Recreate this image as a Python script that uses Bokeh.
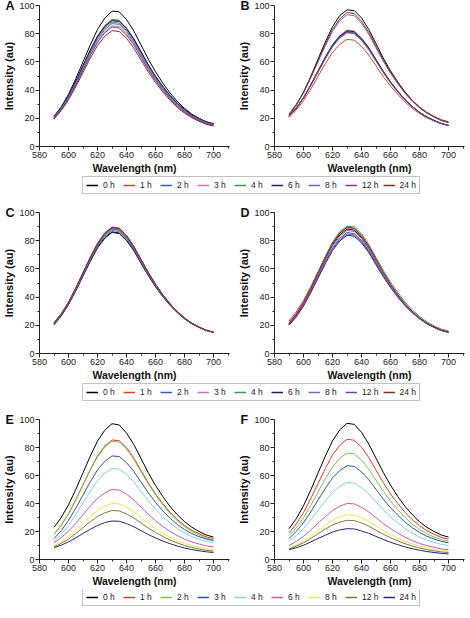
from bokeh.plotting import figure
from bokeh.layouts import column, row
from bokeh.models import Range1d, FixedTicker, Legend, LegendItem
from bokeh.embed import file_html
from bokeh.resources import INLINE

# Emission wavelengths (nm)
WAVELENGTH = [590, 595, 600, 605, 610, 615, 620, 625, 630, 635, 640, 645,
              650, 655, 660, 665, 670, 675, 680, 685, 690, 695, 700]

HOURS = ["0 h", "1 h", "2 h", "3 h", "4 h", "6 h", "8 h", "12 h", "24 h"]

COLORS_AD = ["#000000", "#e8392a", "#2f5fb3", "#d36fb6", "#3c9a4b",
             "#1b2160", "#6b6fb8", "#7b3f95", "#8b2c22"]
COLORS_EF = ["#000000", "#e8392a", "#7cc04a", "#2c5597", "#7dd3df",
             "#c45aa8", "#f2e64a", "#7d7a3a", "#1e2b6e"]

X_TICKS = [580, 600, 620, 640, 660, 680, 700]
X_MINOR = [590, 610, 630, 650, 670, 690, 710]
Y_TICKS = [0, 20, 40, 60, 80, 100]
Y_MINOR = [10, 30, 50, 70, 90]

# Intensity spectra, one list per time point (0 h ... 24 h)
panel_a = [
    [21, 28, 37, 48, 60, 72, 83, 91, 96, 95.5, 90, 82, 72, 62, 53, 45, 38, 32, 27, 23, 20, 17.5, 16],
    [20.5, 27.2, 35.6, 46.0, 57.2, 68.4, 78.4, 85.8, 90.2, 89.5, 84.1, 76.6, 67.2, 57.8, 49.5, 42.1, 35.6, 30.0, 25.6, 21.9, 19.2, 16.8, 15.5],
    [21, 27.6, 35.9, 46.1, 57.2, 68.2, 78.1, 85.3, 89.7, 89.0, 83.7, 76.2, 67.0, 57.8, 49.5, 42.3, 35.9, 30.4, 25.9, 22.3, 19.7, 17.3, 16],
    [20, 26.3, 34.2, 44.0, 54.6, 65.1, 74.6, 81.5, 85.7, 85.0, 79.9, 72.8, 63.9, 55.1, 47.2, 40.2, 34.1, 28.8, 24.5, 21.1, 18.5, 16.3, 15],
    [20.5, 27.0, 35.2, 45.2, 56.2, 67.0, 76.8, 83.9, 88.2, 87.5, 82.3, 74.9, 65.8, 56.7, 48.6, 41.4, 35.1, 29.7, 25.3, 21.8, 19.1, 16.8, 15.5],
    [21.5, 28.0, 36.3, 46.4, 57.4, 68.3, 78.0, 85.0, 89.2, 88.6, 83.5, 76.2, 67.2, 58.1, 49.9, 42.8, 36.4, 30.8, 26.3, 22.6, 19.9, 17.5, 16.2],
    [20.5, 26.9, 34.9, 44.9, 55.6, 66.3, 76.0, 82.9, 87.2, 86.5, 81.4, 74.1, 65.1, 56.1, 48.1, 41.1, 34.8, 29.5, 25.2, 21.7, 19.1, 16.8, 15.5],
    [20, 26.2, 34.0, 43.6, 54.1, 64.5, 73.8, 80.6, 84.7, 84.0, 79.0, 72.0, 63.3, 54.5, 46.7, 39.9, 33.8, 28.6, 24.4, 21.0, 18.5, 16.3, 15],
    [19.5, 25.5, 33.1, 42.4, 52.5, 62.6, 71.6, 78.2, 82.2, 81.5, 76.7, 69.8, 61.4, 52.9, 45.3, 38.7, 32.8, 27.7, 23.7, 20.4, 17.9, 15.7, 14.5],
]

panel_b = [
    [22, 29.2, 38.4, 49.7, 61.9, 74.0, 84.9, 92.9, 96.9, 96.4, 91.2, 83.0, 72.9, 62.7, 53.7, 45.7, 38.7, 32.7, 27.8, 23.9, 21.0, 18.4, 17],
    [20.5, 25.8, 32.5, 40.7, 49.7, 58.7, 66.7, 72.5, 76.0, 75.4, 71.0, 64.9, 57.2, 49.6, 42.9, 36.9, 31.6, 27.0, 23.4, 20.4, 18.1, 16.2, 15],
    [21.5, 27.2, 34.5, 43.5, 53.2, 62.8, 71.6, 77.8, 81.6, 80.9, 76.1, 69.5, 61.2, 53.0, 45.5, 39.0, 33.2, 28.3, 24.2, 20.9, 18.4, 16.3, 15],
    [21.5, 27.3, 34.7, 43.8, 53.7, 63.5, 72.4, 78.8, 82.6, 81.9, 77.0, 70.3, 61.9, 53.5, 46.0, 39.3, 33.4, 28.4, 24.3, 21.0, 18.5, 16.3, 15],
    [21.5, 27.1, 34.3, 43.1, 52.6, 62.1, 70.7, 76.9, 80.6, 79.9, 75.2, 68.7, 60.5, 52.4, 45.1, 38.6, 32.9, 28.1, 24.1, 20.8, 18.4, 16.3, 15],
    [21.5, 27.3, 34.6, 43.7, 53.5, 63.2, 72.0, 78.3, 82.1, 81.4, 76.6, 69.9, 61.6, 53.3, 45.8, 39.2, 33.3, 28.4, 24.3, 21.0, 18.5, 16.3, 15],
    [22.5, 29.3, 37.9, 48.5, 59.9, 71.3, 81.6, 89.1, 93.5, 92.8, 87.3, 79.6, 69.9, 60.5, 51.9, 44.4, 37.6, 32.0, 27.3, 23.6, 20.8, 18.5, 17],
    [21.5, 27.2, 34.4, 43.3, 52.9, 62.5, 71.2, 77.4, 81.1, 80.4, 75.7, 69.1, 60.9, 52.7, 45.3, 38.8, 33.1, 28.2, 24.2, 20.9, 18.4, 16.3, 15],
    [23, 29.9, 38.6, 49.3, 60.9, 72.5, 82.9, 90.5, 95.0, 94.3, 88.7, 80.9, 71.1, 61.4, 52.8, 45.2, 38.4, 32.7, 28.0, 24.2, 21.3, 19.0, 17.5],
]

panel_c = [
    [21, 27.2, 35.2, 44.9, 55.4, 65.8, 75.4, 82.2, 86.3, 85.5, 80.5, 73.3, 64.3, 55.6, 47.6, 40.5, 34.3, 29.1, 24.7, 21.2, 18.5, 16.4, 15],
    [21, 27.5, 35.9, 46.0, 57.0, 67.9, 77.9, 85.3, 89.3, 88.5, 83.3, 75.7, 66.4, 57.3, 48.9, 41.6, 35.1, 29.7, 25.1, 21.4, 18.7, 16.4, 15],
    [21, 27.4, 35.7, 45.6, 56.5, 67.2, 77.1, 84.1, 88.3, 87.5, 82.4, 74.9, 65.7, 56.7, 48.5, 41.2, 34.8, 29.5, 25.0, 21.4, 18.6, 16.4, 15],
    [21, 27.5, 36.0, 46.2, 57.2, 68.2, 78.3, 85.7, 89.8, 89.0, 83.8, 76.1, 66.8, 57.6, 49.1, 41.8, 35.3, 29.8, 25.2, 21.4, 18.7, 16.4, 15],
    [20, 26.6, 35.0, 45.0, 56.0, 66.8, 76.8, 83.9, 88.2, 87.4, 82.4, 74.9, 65.7, 56.7, 48.5, 41.2, 34.8, 29.5, 25.0, 21.4, 18.6, 16.4, 15],
    [20.5, 26.7, 34.6, 44.3, 54.8, 65.2, 74.8, 81.7, 85.8, 85.0, 80.1, 72.9, 63.9, 55.2, 47.3, 40.3, 34.1, 29.0, 24.6, 21.1, 18.5, 16.4, 15.2],
    [21, 27.3, 35.4, 45.3, 55.9, 66.5, 76.3, 83.1, 87.3, 86.5, 81.5, 74.1, 65.0, 56.1, 48.0, 40.9, 34.5, 29.3, 24.9, 21.3, 18.6, 16.4, 15],
    [21.5, 28.0, 36.2, 46.1, 57.0, 67.8, 77.7, 85.0, 89.0, 88.4, 83.4, 75.9, 66.6, 57.5, 49.1, 41.8, 35.2, 29.8, 25.2, 21.5, 18.8, 16.5, 15.2],
    [22, 28.3, 36.5, 46.5, 57.4, 68.2, 78.1, 85.3, 89.5, 88.8, 83.7, 76.0, 66.7, 57.5, 49.0, 41.7, 35.2, 29.8, 25.1, 21.4, 18.7, 16.4, 15],
]

panel_d = [
    [21, 27.4, 35.7, 45.6, 56.5, 67.2, 77.1, 84.1, 88.3, 87.5, 82.4, 74.9, 65.7, 56.7, 48.5, 41.2, 34.8, 29.5, 25.0, 21.4, 18.6, 16.4, 15],
    [23, 29.5, 37.6, 47.4, 58.0, 68.6, 78.3, 85.3, 89.2, 88.4, 83.1, 75.4, 66.0, 56.9, 48.6, 41.3, 34.9, 29.5, 25.0, 21.4, 18.6, 16.4, 15],
    [20.5, 26.7, 34.6, 44.3, 54.8, 65.2, 74.8, 81.7, 85.8, 85.0, 80.1, 72.9, 63.9, 55.2, 47.3, 40.3, 34.1, 29.0, 24.6, 21.1, 18.5, 16.4, 15.2],
    [22, 28.3, 36.5, 46.3, 57.1, 67.9, 77.8, 85.1, 89.2, 88.4, 83.3, 75.7, 66.4, 57.3, 48.9, 41.6, 35.1, 29.7, 25.1, 21.4, 18.7, 16.4, 15],
    [20.5, 26.9, 35.4, 45.8, 57.2, 68.5, 78.9, 86.5, 90.3, 89.8, 84.9, 77.4, 68.1, 59.0, 50.6, 43.2, 36.6, 31.0, 26.3, 22.5, 19.6, 17.3, 16],
    [20, 25.9, 33.6, 43.1, 53.4, 63.6, 73.0, 79.8, 83.8, 83.2, 78.5, 71.6, 62.9, 54.5, 46.8, 40.0, 34.0, 29.0, 24.7, 21.2, 18.6, 16.4, 15],
    [21, 27.3, 35.4, 45.3, 55.9, 66.5, 76.3, 83.1, 87.3, 86.5, 81.5, 74.1, 65.0, 56.1, 48.0, 40.9, 34.5, 29.3, 24.9, 21.3, 18.6, 16.4, 15],
    [20.5, 26.5, 34.2, 43.8, 54.1, 64.4, 73.9, 80.7, 84.8, 84.1, 79.3, 72.3, 63.5, 54.9, 47.1, 40.2, 34.1, 29.0, 24.7, 21.2, 18.6, 16.4, 15.3],
    [21.5, 27.9, 36.2, 46.2, 57.2, 68.1, 78.1, 85.4, 89.6, 88.9, 83.8, 76.2, 66.9, 57.7, 49.2, 41.8, 35.3, 29.9, 25.3, 21.6, 18.8, 16.6, 15.2],
]

panel_e = [
    [23, 30.0, 39.1, 50.0, 61.9, 73.8, 84.6, 92.3, 97.0, 96.1, 90.3, 82.2, 72.1, 62.0, 52.9, 45.0, 37.9, 32.0, 27.1, 23.1, 20.0, 17.5, 16],
    [18, 24.5, 32.6, 42.7, 53.5, 64.2, 74.1, 81.0, 85.4, 84.8, 79.8, 72.6, 63.7, 54.8, 46.9, 40.0, 33.7, 28.6, 24.3, 20.9, 18.4, 16.2, 15],
    [18, 24.3, 32.4, 42.4, 53.1, 63.7, 73.3, 80.3, 84.5, 83.9, 78.9, 71.7, 62.8, 54.0, 46.1, 39.1, 32.9, 27.7, 23.4, 19.9, 17.5, 15.3, 14],
    [15, 20.6, 27.9, 36.6, 46.0, 55.5, 64.0, 70.1, 74.0, 73.5, 69.2, 63.0, 55.3, 47.7, 40.8, 34.8, 29.5, 25.0, 21.4, 18.5, 16.3, 14.6, 13.5],
    [13, 18.0, 24.3, 32.1, 40.4, 48.7, 56.2, 61.7, 65.0, 64.6, 60.8, 55.4, 48.7, 42.0, 36.0, 30.6, 26.0, 22.1, 18.9, 16.3, 14.5, 12.8, 12],
    [12, 15.7, 20.2, 25.9, 32.1, 38.1, 43.7, 47.6, 50.0, 49.6, 46.7, 42.5, 37.4, 32.3, 27.7, 23.7, 20.0, 17.1, 14.5, 12.5, 11.1, 9.7, 9],
    [10, 12.9, 16.5, 21.0, 25.9, 30.6, 35.0, 38.1, 40.0, 39.7, 37.3, 34.0, 29.9, 25.7, 22.1, 18.9, 15.9, 13.5, 11.5, 9.9, 8.7, 7.6, 7],
    [9, 11.5, 14.6, 18.5, 22.8, 26.9, 30.7, 33.3, 35.0, 34.7, 32.6, 29.7, 26.1, 22.5, 19.3, 16.5, 13.9, 11.8, 10.0, 8.6, 7.5, 6.5, 6],
    [8.5, 10.2, 12.6, 15.4, 18.6, 21.6, 24.3, 26.4, 27.5, 27.3, 25.6, 23.4, 20.6, 17.8, 15.4, 13.2, 11.3, 9.6, 8.2, 7.1, 6.2, 5.5, 5],
]

panel_f = [
    [22, 29.1, 38.4, 49.6, 61.7, 73.7, 84.7, 92.6, 97.3, 96.5, 90.8, 82.5, 72.3, 62.2, 53.1, 45.0, 37.9, 32.0, 27.0, 23.0, 20.0, 17.5, 16],
    [19, 25.4, 33.5, 43.5, 54.2, 64.9, 74.7, 81.6, 85.9, 85.2, 80.2, 72.8, 63.8, 54.9, 46.9, 39.9, 33.6, 28.4, 24.1, 20.6, 18.0, 15.8, 14.5],
    [17, 22.6, 29.8, 38.6, 48.1, 57.5, 66.1, 72.3, 76.0, 75.5, 71.0, 64.5, 56.6, 48.7, 41.7, 35.5, 30.0, 25.3, 21.4, 18.3, 16.1, 14.2, 13],
    [15, 20.0, 26.3, 34.0, 42.4, 50.7, 58.3, 63.6, 67.0, 66.5, 62.6, 57.0, 50.1, 43.1, 37.0, 31.6, 26.7, 22.7, 19.3, 16.6, 14.7, 12.9, 12],
    [13, 17.0, 22.1, 28.4, 35.2, 41.8, 48.0, 52.3, 55.0, 54.6, 51.3, 46.8, 41.2, 35.5, 30.5, 26.1, 22.1, 18.8, 16.0, 13.8, 12.2, 10.8, 10],
    [10, 12.9, 16.5, 21.0, 25.9, 30.6, 35.0, 38.1, 40.0, 39.7, 37.3, 34.0, 29.9, 25.7, 22.1, 18.9, 15.9, 13.5, 11.5, 9.9, 8.7, 7.6, 7],
    [8, 10.3, 13.2, 16.7, 20.6, 24.4, 28.0, 30.5, 32.0, 31.7, 29.9, 27.2, 24.0, 20.7, 17.8, 15.2, 13.0, 11.1, 9.6, 8.3, 7.3, 6.5, 6],
    [7.5, 9.5, 12.0, 15.0, 18.4, 21.7, 24.6, 26.7, 28.0, 27.8, 26.1, 23.8, 20.9, 18.1, 15.5, 13.3, 11.3, 9.6, 8.2, 7.0, 6.2, 5.4, 5],
    [7, 8.4, 10.2, 12.5, 15.0, 17.3, 19.6, 21.1, 22.0, 21.8, 20.4, 18.7, 16.5, 14.3, 12.3, 10.6, 9.0, 7.7, 6.6, 5.7, 5.0, 4.4, 4],
]

FONT = "Liberation Sans"


def spectrum_panel(letter, series, colors, top, frame_h):
    p = figure(frame_width=190, frame_height=frame_h,
               min_border_left=39, min_border_right=6,
               min_border_top=top, min_border_bottom=30,
               x_range=Range1d(580, 711), y_range=Range1d(0, 100),
               toolbar_location=None, output_backend="svg")
    p.outline_line_color = None
    p.grid.visible = False
    for ys, c in zip(series, colors):
        p.line(WAVELENGTH, ys, line_color=c, line_width=1)

    p.xaxis.ticker = FixedTicker(ticks=X_TICKS, minor_ticks=X_MINOR)
    p.yaxis.ticker = FixedTicker(ticks=Y_TICKS, minor_ticks=Y_MINOR)
    p.xaxis.axis_label = "Wavelength (nm)"
    p.yaxis.axis_label = "Intensity (au)"
    for ax in (p.xaxis, p.yaxis):
        ax.axis_line_color = "#222222"
        ax.major_tick_line_color = "#222222"
        ax.minor_tick_line_color = "#222222"
        ax.major_tick_in = 0
        ax.major_tick_out = 4
        ax.minor_tick_in = 0
        ax.minor_tick_out = 2
        ax.major_label_text_font = FONT
        ax.major_label_text_font_size = "9px"
        ax.major_label_text_color = "#222222"
        ax.major_label_standoff = 1
        ax.axis_label_text_font = FONT
        ax.axis_label_text_font_style = "bold"
        ax.axis_label_text_color = "#111111"
        ax.axis_label_standoff = 1
    p.xaxis.axis_label_text_font_size = "10.5px"
    p.yaxis.axis_label_text_font_size = "11px"

    # panel letter as a left-aligned title, pulled down beside the y axis top
    p.title.text = letter
    p.title.align = "left"
    p.title.offset = -34
    p.title.standoff = -14
    p.title.text_font = FONT
    p.title.text_font_style = "bold"
    p.title.text_font_size = "12.5px"
    p.title.text_color = "#111111"
    return p


def legend_strip(colors, height, bottom):
    p = figure(width=470, height=height, min_border=0,
               x_range=Range1d(0, 1), y_range=Range1d(0, 1),
               x_axis_type=None, y_axis_type=None,
               toolbar_location=None, output_backend="svg")
    p.outline_line_color = None
    p.grid.visible = False
    items = []
    for h, c in zip(HOURS, colors):
        # off-range stand-in so the legend has a line glyph to draw
        r = p.line(x=[5, 6], y=[5, 6], line_color=c, line_width=1.5)
        items.append(LegendItem(label=h, renderers=[r]))
    leg = Legend(items=items, orientation="horizontal", location=(82, bottom),
                 label_text_font=FONT, label_text_font_size="8.5px",
                 label_text_color="#222222",
                 glyph_width=12, glyph_height=10, label_height=10,
                 label_width=16, label_standoff=5, spacing=4,
                 padding=3, margin=0,
                 border_line_color="#888888", border_line_width=1,
                 background_fill_alpha=1)
    p.add_layout(leg)
    return p


pa = spectrum_panel("A", panel_a, COLORS_AD, 5, 141)
pb = spectrum_panel("B", panel_b, COLORS_AD, 5, 141)
pc = spectrum_panel("C", panel_c, COLORS_AD, 14, 141)
pd = spectrum_panel("D", panel_d, COLORS_AD, 14, 141)
pe = spectrum_panel("E", panel_e, COLORS_EF, 15, 140)
pf = spectrum_panel("F", panel_f, COLORS_EF, 15, 140)

layout = column(
    row(pa, pb),
    legend_strip(COLORS_AD, 22, 4),
    row(pc, pd),
    legend_strip(COLORS_AD, 21, 3),
    row(pe, pf),
    legend_strip(COLORS_EF, 29, 12),
)

open("out.html", "w").write(file_html(layout, INLINE, "Fluorescence spectra"))
